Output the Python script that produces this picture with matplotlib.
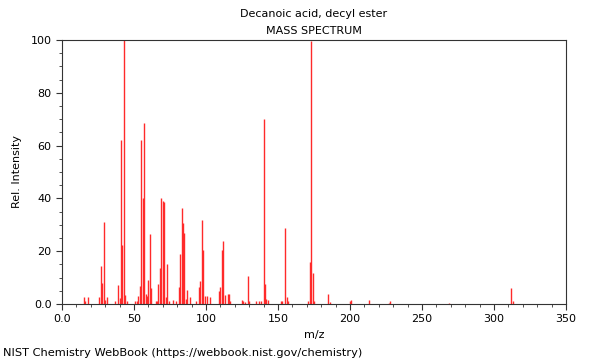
import matplotlib
matplotlib.use("Agg")
import matplotlib.pyplot as plt
from matplotlib.ticker import MultipleLocator, FuncFormatter

# peaks (m/z, relative intensity)
mz = [15, 16, 18, 26, 27, 28, 29, 30, 31, 37, 39, 40, 41, 42, 43, 44, 45,
      51, 52, 53, 54, 55, 56, 57, 58, 59, 60, 61, 62, 65, 66, 67, 68, 69,
      70, 71, 72, 73, 74, 77, 79, 81, 82, 83, 84, 85, 86, 87, 89, 93, 95,
      96, 97, 98, 99, 101, 103, 109, 110, 111, 112, 113, 115, 116, 117,
      125, 126, 127, 129, 130, 135, 137, 138, 140, 141, 142, 143, 152, 153,
      155, 156, 157, 171, 172, 173, 174, 175, 185, 186, 200, 201, 213, 227,
      228, 269, 312, 313]
intensity = [2.8, 1.0, 2.5, 2.5, 14.4, 7.8, 31.2, 1.5, 2.8, 1.2, 7.2, 2.2, 62.0, 22.5, 100.0, 3.5, 1.0,
             1.2, 1.0, 3.0, 7.0, 62.1, 40.3, 68.4, 3.7, 3.0, 9.1, 26.5, 6.0, 1.0, 1.2, 7.6, 13.5, 40.3,
             39.1, 38.5, 2.5, 15.0, 1.0, 1.5, 1.0, 6.6, 18.8, 36.2, 30.5, 26.8, 2.0, 5.2, 2.5, 1.0, 6.6,
             8.6, 31.8, 20.5, 3.0, 3.0, 2.5, 4.9, 6.3, 20.5, 24.0, 3.5, 3.8, 3.8, 1.0,
             1.5, 1.0, 0.8, 10.5, 1.0, 1.0, 1.2, 1.2, 70.0, 7.6, 2.0, 1.5, 1.2, 1.3,
             28.9, 2.8, 1.2, 1.2, 15.8, 99.5, 11.6, 1.2, 3.8, 0.8, 1.2, 1.4, 1.5, 0.5,
             1.3, 0.3, 6.1, 1.3]

title = "Decanoic acid, decyl ester"
subtitle = "MASS SPECTRUM"
footer = "NIST Chemistry WebBook (https://webbook.nist.gov/chemistry)"


def fmt(v, pos):
    return "0.0" if v == 0 else "%d" % v


fig = plt.figure(figsize=(6, 3.6), dpi=100)
ax = fig.add_axes([0.1033, 0.1556, 0.84, 0.7333])

ax.vlines(mz, 0, intensity, color="#ff2a2a", linewidth=1.0)

ax.set_xlim(0, 350)
ax.set_ylim(0, 100)
ax.xaxis.set_major_locator(MultipleLocator(50))
ax.xaxis.set_minor_locator(MultipleLocator(10))
ax.yaxis.set_major_locator(MultipleLocator(20))
ax.yaxis.set_minor_locator(MultipleLocator(5))
ax.xaxis.set_major_formatter(FuncFormatter(fmt))
ax.yaxis.set_major_formatter(FuncFormatter(fmt))
ax.tick_params(which="major", length=4, width=0.8, labelsize=8, color="#333333")
ax.tick_params(which="minor", length=2, width=0.6, color="#333333")
for s in ax.spines.values():
    s.set_color("#333333")
    s.set_linewidth(0.8)

ax.set_xlabel("m/z", fontsize=8)
ax.set_ylabel("Rel. Intensity", fontsize=8, labelpad=6)

fig.text(0.523, 0.962, title, ha="center", va="center", fontsize=8)
fig.text(0.523, 0.915, subtitle, ha="center", va="center", fontsize=8)
fig.text(0.005, 0.02, footer, ha="left", va="center", fontsize=8.2)

fig.savefig("out.png", dpi=100)
